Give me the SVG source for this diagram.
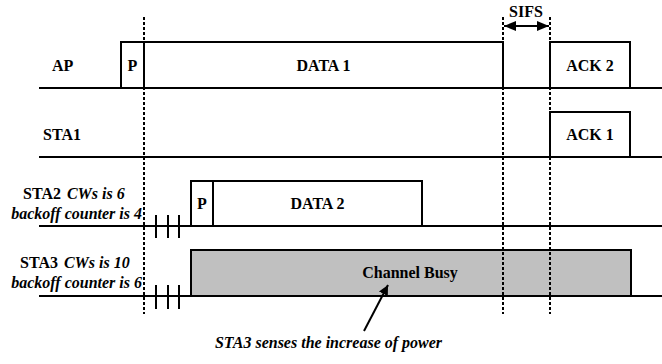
<svg xmlns="http://www.w3.org/2000/svg" width="662" height="364" viewBox="0 0 662 364">
<style>
.ln{stroke:#000;stroke-width:2;fill:none}
.box{stroke:#000;stroke-width:2;fill:#fff}
.busy{stroke:#000;stroke-width:2;fill:#c0c0c0}
.dot{stroke:#000;stroke-width:2;stroke-dasharray:3 2;fill:none}
.t{font-family:"Liberation Serif","Times New Roman",serif;font-weight:bold;font-size:16px;fill:#000}
.c{text-anchor:middle}
.i{font-style:italic}
</style>
<defs>
<marker id="ah" viewBox="0 0 10 10" refX="10" refY="5" markerWidth="10" markerHeight="10" markerUnits="userSpaceOnUse" orient="auto-start-reverse">
<path d="M0,0 L10,5 L0,10 z" fill="#000"/>
</marker>
<marker id="ah2" viewBox="0 0 12 10" refX="12" refY="5" markerWidth="12" markerHeight="10" markerUnits="userSpaceOnUse" orient="auto-start-reverse">
<path d="M0,0 L12,5 L0,10 z" fill="#000"/>
</marker>
</defs>
<rect width="662" height="364" fill="#fff"/>
<g id="baselines">
<line class="ln" x1="39" y1="88" x2="662" y2="88"/>
<line class="ln" x1="39" y1="157" x2="662" y2="157"/>
<line class="ln" x1="39" y1="226" x2="662" y2="226"/>
<line class="ln" x1="39" y1="296" x2="662" y2="296"/>
</g>
<g id="labels">
<text class="t" x="52" y="71">AP</text>
<text class="t" x="43" y="139.5">STA1</text>
<text class="t" x="23" y="199">STA2<tspan class="i" dx="6">CWs is 6</tspan></text>
<text class="t i" x="142" y="218.5" text-anchor="end">backoff counter is 4</text>
<text class="t" x="20" y="268">STA3<tspan class="i" dx="6">CWs is 10</tspan></text>
<text class="t i" x="142" y="288" text-anchor="end">backoff counter is 6</text>
</g>
<g id="ap-p"><rect class="box" x="121" y="42" width="23" height="46"/><text class="t c" x="132.5" y="71">P</text></g>
<g id="ap-data1"><rect class="box" x="144" y="42" width="359" height="46"/><text class="t c" x="323.5" y="71">DATA 1</text></g>
<g id="ap-ack2"><rect class="box" x="550" y="42" width="80" height="46"/><text class="t c" x="590" y="70.5">ACK 2</text></g>
<g id="sta1-ack1"><rect class="box" x="550" y="112" width="80" height="45"/><text class="t c" x="590" y="139.5">ACK 1</text></g>
<g id="sta2-p"><rect class="box" x="191" y="181" width="22" height="45"/><text class="t c" x="202" y="208.5">P</text></g>
<g id="sta2-data2"><rect class="box" x="213" y="181" width="209" height="45"/><text class="t c" x="317.5" y="208.5">DATA 2</text></g>
<g id="sta3-busy"><rect class="busy" x="191" y="250" width="440" height="46"/><text class="t c" x="410" y="277.5">Channel Busy</text></g>
<g id="ticks">
<line class="ln" x1="156" y1="215" x2="156" y2="238"/>
<line class="ln" x1="168" y1="215" x2="168" y2="238"/>
<line class="ln" x1="179" y1="215" x2="179" y2="238"/>
<line class="ln" x1="156" y1="285" x2="156" y2="309"/>
<line class="ln" x1="168" y1="285" x2="168" y2="309"/>
<line class="ln" x1="179" y1="285" x2="179" y2="309"/>
</g>
<g id="connectors">
<line class="dot" x1="144" y1="17" x2="144" y2="314"/>
<line class="dot" x1="503" y1="17" x2="503" y2="314"/>
<line class="dot" x1="550" y1="17" x2="550" y2="314"/>
<line class="ln" x1="504" y1="26" x2="549" y2="26" marker-start="url(#ah2)" marker-end="url(#ah2)"/>
<line class="ln" x1="364" y1="331" x2="388" y2="285" marker-end="url(#ah)"/>
</g>
<g id="annotations">
<text class="t c" x="526" y="17">SIFS</text>
<text class="t i c" x="328.5" y="348">STA3 senses the increase of power</text>
</g>
</svg>
